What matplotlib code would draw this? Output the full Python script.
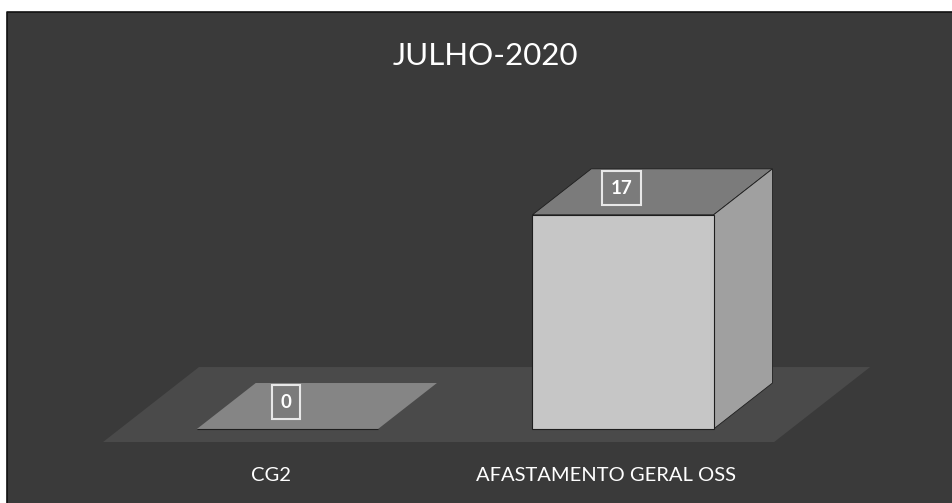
import matplotlib.pyplot as plt
from matplotlib.patches import Polygon, Rectangle

title = "JULHO-2020"
categories = ["CG2", "AFASTAMENTO GERAL OSS"]
values = [0, 17]

plt.rcParams["font.family"] = ["Lato", "DejaVu Sans"]

# oblique 3D look: full floor depth expressed in data units (x, y)
DEPTH = (0.286, 5.95)
BAR_D0, BAR_D1 = 0.173, 0.787
BAR_W = 0.54

BG = "#3a3a3a"
FLOOR = "#4a4a4a"
FRONT = "#c6c6c6"
TOP = "#7b7b7b"
SIDE = "#a0a0a0"


def shift(pts, d):
    return [(x + DEPTH[0] * d, y + DEPTH[1] * d) for x, y in pts]


fig = plt.figure(figsize=(9.53, 5.03), dpi=100, facecolor="white")
ax = fig.add_axes([0, 0, 1, 1])
ax.set_xlim(-0.807, 2.033)
ax.set_ylim(-4.84, 35.08)
ax.axis("off")

left, top_edge = 7 / 953, 1 - 12 / 503
ax.add_patch(Rectangle((left, 0), 1, top_edge, transform=ax.transAxes,
                       facecolor=BG, edgecolor="none", zorder=0))
ax.plot([left, left, 1], [0, top_edge, top_edge], transform=ax.transAxes,
        color="#111111", lw=1.2, zorder=0.5)

n = len(categories)
floor = [(-0.5, 0), (n - 0.5, 0)]
floor = floor + shift(floor[::-1], 1)
ax.add_patch(Polygon(floor, closed=True, facecolor=FLOOR, edgecolor="none", zorder=1))

# bars sit partway into the floor depth
sx, sy = DEPTH[0] * BAR_D0, DEPTH[1] * BAR_D0
xs = [i + sx for i in range(n)]
ax.bar(xs, values, width=BAR_W, bottom=sy, color=FRONT,
       edgecolor="#1e1e1e", linewidth=0.8, zorder=3)

dd = BAR_D1 - BAR_D0
for x, v in zip(xs, values):
    l, r = x - BAR_W / 2, x + BAR_W / 2
    top = [(l, sy + v), (r, sy + v)]
    top = top + shift(top[::-1], dd)
    ax.add_patch(Polygon(top, closed=True, facecolor=TOP if v else "#858585",
                         edgecolor="#1e1e1e" if v else "none", lw=0.6, zorder=2))
    if v:
        side = [(r, sy), (r, sy + v)]
        side = side + shift(side[::-1], dd)
        ax.add_patch(Polygon(side, closed=True, facecolor=SIDE,
                             edgecolor="#1e1e1e", lw=0.6, zorder=2))

for i, v in enumerate(values):
    ax.text(i + 0.045, v + 3.15, str(v), ha="center", va="center",
            color="white", fontsize=13.5, fontweight="bold", zorder=5,
            bbox=dict(boxstyle="square,pad=0.45", facecolor=TOP,
                      edgecolor="#e8e8e8", linewidth=1.5))

for i, cat in enumerate(categories):
    ax.text(i, -2.62, cat, ha="center", va="center", color="white", fontsize=14.5)

fig.text(485 / 953, 1 - 56 / 503, title, ha="center", va="center",
         color="white", fontsize=22.5)

fig.savefig("out.png", dpi=100, facecolor=fig.get_facecolor())
